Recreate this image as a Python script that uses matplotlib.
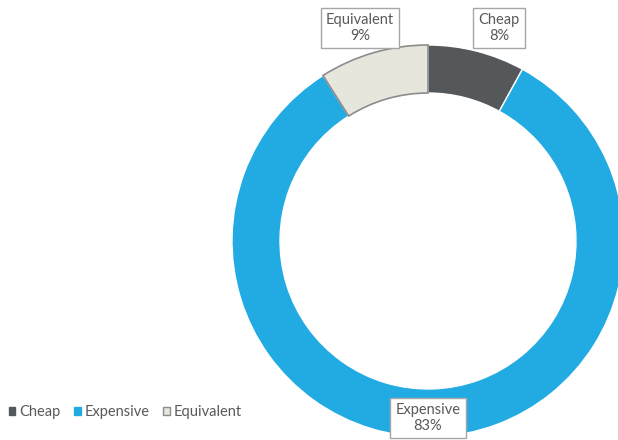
import matplotlib
matplotlib.use("Agg")
import matplotlib.pyplot as plt
from matplotlib.patches import Patch

plt.rcParams["font.family"] = ["Lato", "DejaVu Sans"]

categories = ["Cheap", "Expensive", "Equivalent"]
values = [8, 83, 9]
colors = ["#54585A", "#21ABE2", "#E6E6DC"]
edgecolors = ["white", "white", "#8C8C8C"]

fig = plt.figure(figsize=(6.18, 4.40), dpi=100)
W, H = 618, 440
cx, cy, R = 428, 241, 196
ax = fig.add_axes([(cx - R) / W, (H - cy - R) / H, 2 * R / W, 2 * R / H])

wedges, _ = ax.pie(values, colors=colors, startangle=90, counterclock=False,
                   radius=1.0, wedgeprops=dict(width=0.245, linewidth=1.0))
ax.set_xlim(-1, 1)
ax.set_ylim(-1, 1)
ax.set_aspect("equal")
ax.axis("off")
for w, ec in zip(wedges, edgecolors):
    w.set_edgecolor(ec)
wedges[2].set_linewidth(1.2)
wedges[2].set_zorder(3)

label_pos = {"Cheap": (0.362, 1.087), "Expensive": (0.0, -0.903), "Equivalent": (-0.347, 1.087)}
for c, v in zip(categories, values):
    x, y = label_pos[c]
    ax.text(x, y, f"{c}\n{v}%", ha="center", va="center", fontsize=10.5,
            color="#595959", linespacing=1.15, zorder=5, clip_on=False,
            bbox=dict(boxstyle="square,pad=0.35", fc="white", ec="#A6A6A6", lw=1.0))

handles = [Patch(facecolor=col, edgecolor=(ec if ec != "white" else col), linewidth=1.0)
           for col, ec in zip(colors, edgecolors)]
fig.legend(handles, categories, loc="center left", bbox_to_anchor=(0.0, (H - 412) / H),
           frameon=False, ncol=3, fontsize=10.5, handlelength=0.45, handleheight=0.45,
           handletextpad=0.3, columnspacing=0.9, labelcolor="#595959", borderaxespad=0.2)

fig.savefig("out.png", dpi=100)
